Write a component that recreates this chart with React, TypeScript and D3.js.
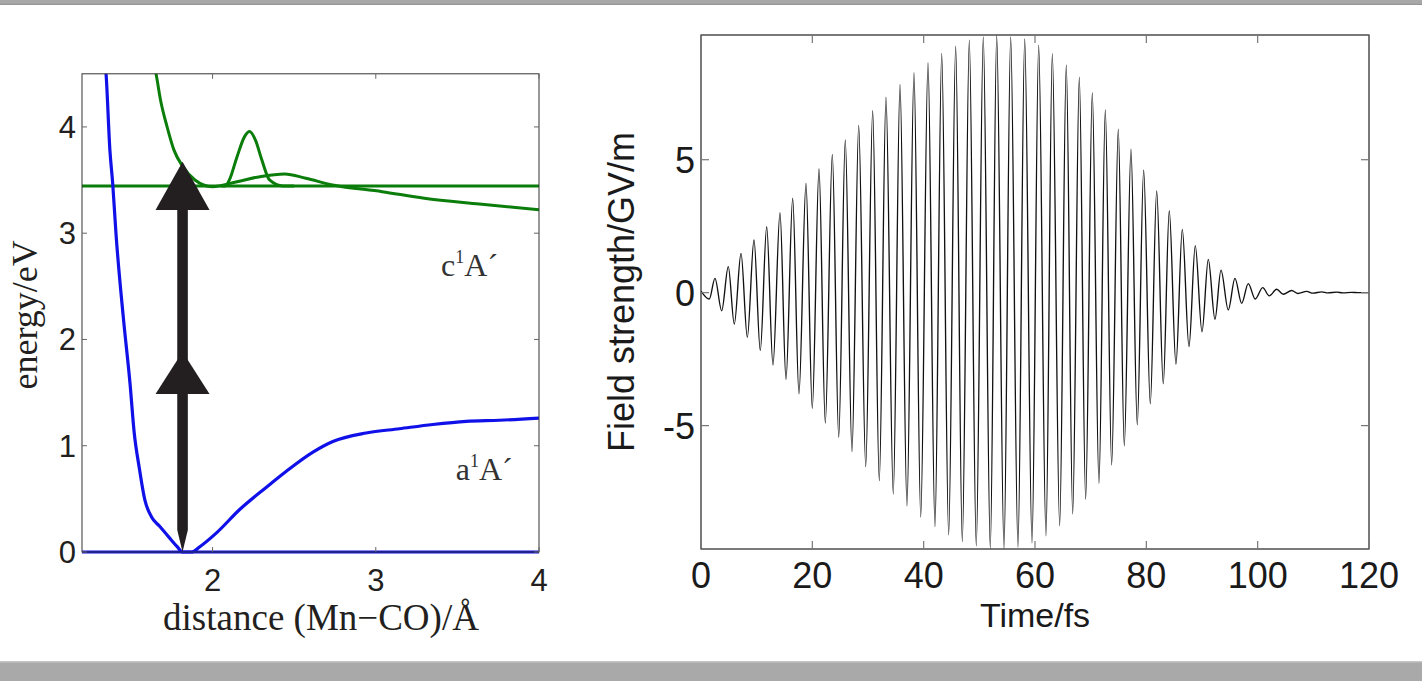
import React from "react";
import * as d3 from "d3";

// ---------- Left panel: potential energy curves ----------
const groundDistance = [1.33, 1.347, 1.371, 1.388, 1.408, 1.453, 1.494, 1.52, 1.55, 1.585, 1.626, 1.677, 1.732, 1.783, 1.816, 1.871, 1.922, 2.024, 2.166, 2.33, 2.452, 2.615, 2.737, 2.941, 3.145, 3.349, 3.553, 3.757, 4.0];
const groundEnergy = [4.75, 4.51, 3.78, 3.47, 3.0, 2.21, 1.59, 1.12, 0.8, 0.49, 0.33, 0.24, 0.14, 0.05, 0.0, 0.0, 0.05, 0.18, 0.4, 0.61, 0.76, 0.94, 1.04, 1.12, 1.16, 1.2, 1.23, 1.24, 1.26];

const excitedDistance = [1.616, 1.653, 1.681, 1.721, 1.763, 1.818, 1.892, 1.998, 2.15, 2.29, 2.442, 2.571, 2.735, 3.039, 3.297, 3.634, 4.0];
const excitedEnergy = [4.72, 4.505, 4.254, 4.003, 3.784, 3.626, 3.501, 3.438, 3.485, 3.532, 3.558, 3.517, 3.454, 3.391, 3.329, 3.275, 3.22];

const packetDistance = [2.05, 2.08, 2.103, 2.15, 2.196, 2.227, 2.262, 2.302, 2.349, 2.431, 2.5];
const packetEnergy = [3.445, 3.445, 3.501, 3.72, 3.909, 3.956, 3.878, 3.689, 3.501, 3.445, 3.445];

const groundLevel = 0;
const excitedLevel = 3.445;
const transitionDistance = 1.816;
const photonTips = [1.885, 3.673];
const photonBases = [1.487, 3.219];

const leftXTicks = [2, 3, 4];
const leftYTicks = [0, 1, 2, 3, 4];
const stateLabels = ["c", "a"];
const stateLabelDistance = [3.4, 3.49];
const stateLabelEnergy = [2.6, 0.68];

// ---------- Right panel: laser field ----------
const peakTimes = [2.51, 4.9, 7.19, 9.52, 11.8, 14.19, 16.47, 18.86, 21.2, 23.59, 25.92, 28.33, 30.84, 33.23, 35.75, 38.26, 40.78, 43.24, 45.75, 48.2, 50.71, 53.12, 55.63, 58.15, 60.66, 63.11, 65.62, 67.96, 70.29, 72.63, 74.96, 77.24, 79.52, 81.86, 84.12, 86.46, 88.79, 91.13, 93.41, 95.92, 98.31, 100.9, 103.41, 106.11, 108.8, 111.5, 114.19, 116.89];
const peakField = [0.54, 0.98, 1.48, 1.98, 2.48, 3.01, 3.55, 4.11, 4.65, 5.2, 5.74, 6.29, 6.84, 7.35, 7.83, 8.27, 8.65, 9.0, 9.27, 9.5, 9.62, 9.66, 9.62, 9.54, 9.31, 8.99, 8.56, 8.1, 7.52, 6.87, 6.15, 5.4, 4.61, 3.83, 3.08, 2.38, 1.77, 1.25, 0.85, 0.54, 0.34, 0.19, 0.13, 0.08, 0.05, 0.03, 0.02, 0.01];
const troughTimes = [1.49, 3.72, 5.98, 8.32, 10.65, 12.93, 15.27, 17.6, 19.99, 22.33, 24.74, 27.12, 29.59, 32.03, 34.54, 37.0, 39.47, 42.03, 44.49, 46.94, 49.45, 51.97, 54.43, 56.94, 59.46, 61.97, 64.43, 66.77, 69.1, 71.49, 73.77, 76.04, 78.37, 80.71, 83.04, 85.32, 87.66, 90.0, 92.33, 94.72, 97.13, 99.57, 102.09, 104.6, 107.24, 109.94, 112.63, 115.32, 118.02];
const troughField = [-0.24, -0.68, -1.18, -1.68, -2.18, -2.72, -3.26, -3.8, -4.35, -4.9, -5.44, -5.98, -6.54, -7.07, -7.57, -8.02, -8.44, -8.8, -9.11, -9.36, -9.52, -9.61, -9.62, -9.57, -9.41, -9.14, -8.76, -8.32, -7.77, -7.17, -6.48, -5.76, -4.97, -4.18, -3.43, -2.69, -2.03, -1.47, -1.0, -0.65, -0.4, -0.24, -0.12, -0.06, -0.03, -0.02, -0.01, -0.01, 0];
const fieldEndTimes = [0, 120];
const fieldEndValues = [0.06, 0];

const rightXTicks = [0, 20, 40, 60, 80, 100, 120];
const rightYTicks = [-5, 0, 5];

type P = { x: number; y: number };

export default function App() {
  const W = 1422;
  const H = 681;

  // left scales
  const xL = d3.scaleLinear().domain([1.2, 4]).range([82, 539]);
  const yL = d3.scaleLinear().domain([0, 4.5]).range([552, 73.8]);
  // right scales
  const xR = d3.scaleLinear().domain([0, 120]).range([701, 1369]);
  const yR = d3.scaleLinear().domain([-9.64, 9.69]).range([549, 35]);

  const lineL = d3
    .line<P>()
    .x((d) => xL(d.x))
    .y((d) => yL(d.y))
    .curve(d3.curveMonotoneX);

  const zip = (a: number[], b: number[]): P[] => a.map((x, i) => ({ x, y: b[i] }));

  const groundPath = lineL(zip(groundDistance, groundEnergy)) || "";
  const excitedPath = lineL(zip(excitedDistance, excitedEnergy)) || "";
  const packetPath = lineL(zip(packetDistance, packetEnergy)) || "";

  const fieldPts: P[] = [
    ...zip(fieldEndTimes, fieldEndValues),
    ...zip(peakTimes, peakField),
    ...zip(troughTimes, troughField),
  ].sort((a, b) => a.x - b.x);
  const fieldPath =
    d3
      .line<P>()
      .x((d) => xR(d.x))
      .y((d) => yR(d.y))
      .curve(d3.curveMonotoneX)(fieldPts) || "";

  // arrow geometry
  const ax = xL(transitionDistance);
  const shaftHalf = 5.3;
  const headHalf = 27;
  const taperTop = yL(0.207);
  const shaftPath = `M${ax},${yL(groundLevel)} L${ax - shaftHalf},${taperTop} L${ax - shaftHalf},${yL(photonBases[1])} L${ax + shaftHalf},${yL(photonBases[1])} L${ax + shaftHalf},${taperTop} Z`;
  const heads = photonTips.map(
    (tip, i) =>
      `M${ax - headHalf},${yL(photonBases[i])} L${ax + headHalf},${yL(photonBases[i])} L${ax},${yL(tip)} Z`
  );

  const lx0 = xL.range()[0], lx1 = xL.range()[1];
  const ly0 = yL.range()[0], ly1 = yL.range()[1];
  const rx0 = xR.range()[0], rx1 = xR.range()[1];
  const ry0 = yR.range()[0], ry1 = yR.range()[1];

  const sans = "'Liberation Sans', Arial, Helvetica, sans-serif";
  const serif = "'Liberation Serif', 'Times New Roman', serif";
  const textCol = "#231f20";

  return (
    <svg
      width={W}
      height={H}
      style={{ position: "fixed", left: 0, top: 0, display: "block", background: "#fff" }}
    >
      <defs>
        <clipPath id="clipL">
          <rect x={lx0} y={ly1} width={lx1 - lx0} height={ly0 - ly1 + 2} />
        </clipPath>
        <clipPath id="clipR">
          <rect x={rx0} y={ry1} width={rx1 - rx0} height={ry0 - ry1} />
        </clipPath>
      </defs>
      <rect x={0} y={0} width={W} height={H} fill="#fff" />

      {/* top / bottom gray bars */}
      <rect x={0} y={0} width={W} height={3.4} fill="#a8a8a8" />
      <rect x={0} y={3.4} width={W} height={1.4} fill="#7e7e7e" />
      <rect x={0} y={661.5} width={W} height={1} fill="#8c8c8c" />
      <rect x={0} y={662.5} width={W} height={H - 662.5} fill="#a9a9a9" />

      {/* ---------- Left panel ---------- */}
      <g clipPath="url(#clipL)">
        <line x1={lx0} x2={lx1} y1={yL(excitedLevel)} y2={yL(excitedLevel)} stroke="#0b7d0b" strokeWidth={3} />
        <path d={excitedPath} fill="none" stroke="#0b7d0b" strokeWidth={3} />
        <path d={packetPath} fill="none" stroke="#0b7d0b" strokeWidth={3} />
        <line x1={lx0} x2={lx1} y1={yL(groundLevel)} y2={yL(groundLevel)} stroke="#1010e8" strokeWidth={3.2} />
        <path d={groundPath} fill="none" stroke="#1010e8" strokeWidth={3.2} />
      </g>
      <rect x={lx0} y={ly1} width={lx1 - lx0} height={ly0 - ly1} fill="none" stroke="#333" strokeWidth={1} />
      {leftXTicks.map((t) => (
        <g key={"lx" + t}>
          <line x1={xL(t)} x2={xL(t)} y1={ly0} y2={ly0 - 5} stroke="#666" />
          <line x1={xL(t)} x2={xL(t)} y1={ly1} y2={ly1 + 5} stroke="#666" />
          <text x={xL(t)} y={591} textAnchor="middle" fontFamily={sans} fontSize={31} fill={textCol}>
            {t}
          </text>
        </g>
      ))}
      {leftYTicks.map((t) => (
        <g key={"ly" + t}>
          <line x1={lx0} x2={lx0 + 5} y1={yL(t)} y2={yL(t)} stroke="#666" />
          <line x1={lx1} x2={lx1 - 5} y1={yL(t)} y2={yL(t)} stroke="#666" />
          <text x={76} y={yL(t) + 11} textAnchor="end" fontFamily={sans} fontSize={31} fill={textCol}>
            {t}
          </text>
        </g>
      ))}
      {/* arrows */}
      <path d={shaftPath} fill="#231f20" />
      {heads.map((d, i) => (
        <path key={"h" + i} d={d} fill="#231f20" />
      ))}
      {/* state labels */}
      {stateLabels.map((s, i) => (
        <text
          key={s}
          x={xL(stateLabelDistance[i])}
          y={yL(stateLabelEnergy[i])}
          fontFamily={serif}
          fontSize={32}
          fill="#333"
        >
          {s}
          <tspan fontSize={18} dy={-13}>1</tspan>
          <tspan dy={13}>A´</tspan>
        </text>
      ))}
      <text
        transform={`translate(37,${(ly0 + ly1) / 2 + 2}) rotate(-90)`}
        textAnchor="middle"
        fontFamily={serif}
        fontSize={36}
        fill={textCol}
      >
        energy/eV
      </text>
      <text x={321} y={630} textAnchor="middle" fontFamily={serif} fontSize={37} fill={textCol}>
        distance (Mn−CO)/Å
      </text>

      {/* ---------- Right panel ---------- */}
      <g clipPath="url(#clipR)">
        <path d={fieldPath} fill="none" stroke="#111" strokeWidth={1.35} />
      </g>
      <rect x={rx0} y={ry1} width={rx1 - rx0} height={ry0 - ry1} fill="none" stroke="#222" strokeWidth={1.2} />
      {rightXTicks.map((t) => (
        <g key={"rx" + t}>
          <line x1={xR(t)} x2={xR(t)} y1={ry0} y2={ry0 - 8} stroke="#777" strokeWidth={1.2} />
          <line x1={xR(t)} x2={xR(t)} y1={ry1} y2={ry1 + 8} stroke="#777" strokeWidth={1.2} />
          <text x={xR(t)} y={588} textAnchor="middle" fontFamily={sans} fontSize={36} fill="#1a1a1a">
            {t}
          </text>
        </g>
      ))}
      {rightYTicks.map((t) => (
        <g key={"ry" + t}>
          <line x1={rx0} x2={rx0 + 8} y1={yR(t)} y2={yR(t)} stroke="#777" strokeWidth={1.2} />
          <line x1={rx1} x2={rx1 - 8} y1={yR(t)} y2={yR(t)} stroke="#777" strokeWidth={1.2} />
          <text x={695} y={yR(t) + 13} textAnchor="end" fontFamily={sans} fontSize={36} fill="#1a1a1a">
            {t}
          </text>
        </g>
      ))}
      <text
        transform={`translate(634,${(ry0 + ry1) / 2}) rotate(-90)`}
        textAnchor="middle"
        fontFamily={sans}
        fontSize={36}
        fill="#1a1a1a"
      >
        Field strength/GV/m
      </text>
      <text x={(rx0 + rx1) / 2} y={627} textAnchor="middle" fontFamily={sans} fontSize={34} fill="#1a1a1a">
        Time/fs
      </text>
    </svg>
  );
}
